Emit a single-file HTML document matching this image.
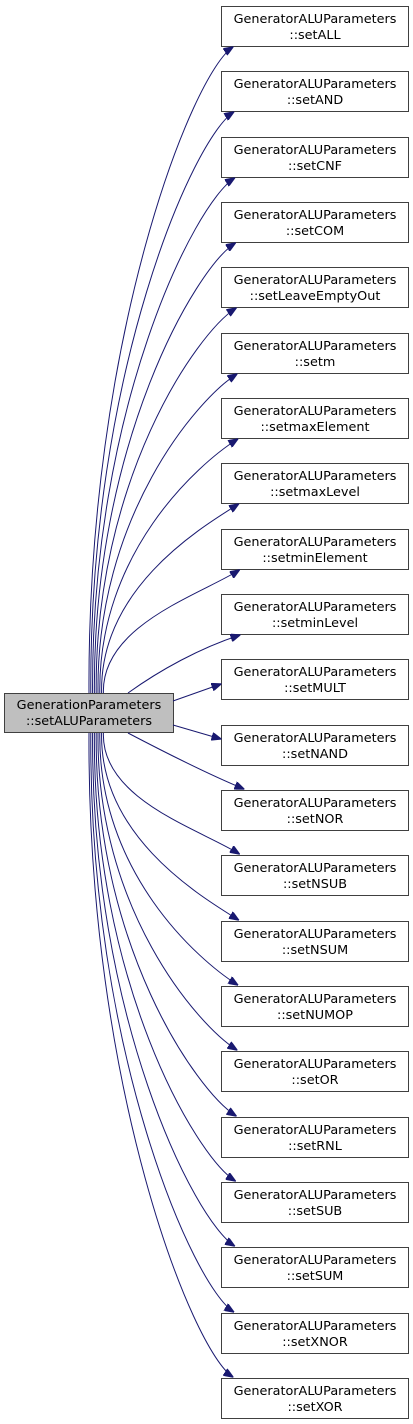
<!DOCTYPE html>
<html><head><meta charset="utf-8">
<style>
html,body{margin:0;padding:0;background:#fff;}
svg{display:block;}
text{font-family:"DejaVu Sans","Liberation Sans",sans-serif;font-size:12.8px;fill:#000;}
</style></head>
<body>
<svg id="g" width="413" height="1424" viewBox="0 0 413 1424" xmlns="http://www.w3.org/2000/svg">
<defs>
<marker id="ah" markerWidth="10" markerHeight="8" refX="9.5" refY="4" orient="auto" markerUnits="userSpaceOnUse">
<path d="M0,0 L10,4 L0,8 Z" fill="#191970" stroke="#191970"/>
</marker>
</defs>
<rect x="4.5" y="693.5" width="169" height="39" fill="#bfbfbf" stroke="#404040"/>
<text x="89" y="709" text-anchor="middle">GenerationParameters</text>
<text x="89" y="725" text-anchor="middle">::setALUParameters</text>
</svg>
<script>
var names=["setALL","setAND","setCNF","setCOM","setLeaveEmptyOut","setm","setmaxElement","setmaxLevel","setminElement","setminLevel","setMULT","setNAND","setNOR","setNSUB","setNSUM","setNUMOP","setOR","setRNL","setSUB","setSUM","setXNOR","setXOR"];
var g=document.getElementById('g'),s="";
for(var i=0;i<22;i++){
 var t=Math.round(6+i*65.33);
 s+='<rect x="221.5" y="'+(t+0.5)+'" width="187" height="40" fill="#fff" stroke="#404040"/>';
 s+='<text x="315" y="'+(t+17)+'" text-anchor="middle">GeneratorALUParameters</text>';
 s+='<text x="315" y="'+(t+33)+'" text-anchor="middle">::'+names[i]+'</text>';
 var d;
 if(i<=8){
  var sx=89+i*1.8, ey=t+41, ex=233+i*0.8;
  d='M'+sx+',693 C'+(sx-2)+','+(ey+(693-ey)*0.45)+' '+(ex-40)+','+(ey+25)+' '+ex+','+ey;
 }else if(i==9){
  d='M128,693 C160,670 200,648 240,'+(t+41);
 }else if(i==10){
  d='M173,701 L221,'+(t+25);
 }else if(i==11){
  d='M173,725 L221,'+(t+14);
 }else if(i==12){
  d='M128,733 C170,755 210,775 244,'+(t-1);
 }else{
  var k=21-i, sx=89+k*1.8, ey=t-1, ex=233+k*0.8;
  d='M'+sx+',733 C'+(sx-2)+','+(ey-(ey-733)*0.45)+' '+(ex-40)+','+(ey-25)+' '+ex+','+ey;
 }
 s+='<path d="'+d+'" fill="none" stroke="#191970" stroke-width="1" marker-end="url(#ah)"/>';
}
g.insertAdjacentHTML('beforeend',s);
</script>
</body></html>
